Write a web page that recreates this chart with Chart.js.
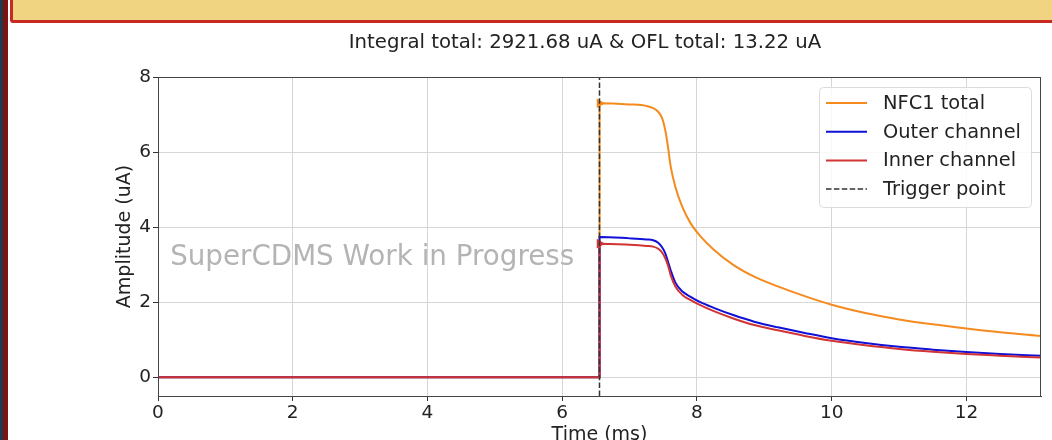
<!DOCTYPE html>
<html>
<head>
<meta charset="utf-8">
<script src="https://cdn.jsdelivr.net/npm/chart.js@4.4.1/dist/chart.umd.min.js"></script>
<style>
  html, body { margin: 0; padding: 0; background: #fff; overflow: hidden; }
  body { width: 1052px; height: 440px; position: relative; }
  #stripTeal { position: absolute; left: 0; top: 0; width: 3px; height: 440px; background: #1b3c4c; }
  #stripRed { position: absolute; left: 3px; top: 0; width: 5px; height: 440px; background: #7c1212; }
  #banner { position: absolute; left: 10px; top: -5px; width: 1060px; height: 22px; background: #f0d482; border: 3px solid #c62a22; border-radius: 3px; }
  #wrap { position: absolute; left: 0; top: 0; width: 1052px; height: 460px; }
</style>
</head>
<body>
<div id="stripTeal"></div>
<div id="stripRed"></div>
<div id="banner"></div>
<div id="wrap"><canvas id="pulse" width="1052" height="460"></canvas></div>
<script>
// pulse (ms / uA)
const timeMs = [0, 6.5536, 6.5537, 7.0, 7.25, 7.35, 7.42, 7.48, 7.53, 7.57, 7.61, 7.68, 7.78, 7.9, 8.05, 8.25, 8.55, 8.85, 9.2, 9.6, 10.0, 10.5, 11.0, 11.5, 12.0, 12.5, 13.1072];
const nfc1Total = [0, 0, 7.30, 7.27, 7.23, 7.17, 7.08, 6.92, 6.58, 6.14, 5.62, 5.07, 4.55, 4.12, 3.76, 3.40, 2.98, 2.68, 2.42, 2.16, 1.93, 1.71, 1.54, 1.41, 1.30, 1.20, 1.10];
const outerChannel = [0, 0, 3.74, 3.70, 3.67, 3.65, 3.59, 3.47, 3.30, 3.08, 2.85, 2.52, 2.29, 2.15, 2.00, 1.85, 1.65, 1.48, 1.33, 1.18, 1.04, 0.91, 0.81, 0.735, 0.67, 0.62, 0.57];
const innerChannel = [0, 0, 3.56, 3.53, 3.50, 3.48, 3.43, 3.33, 3.17, 2.98, 2.72, 2.42, 2.20, 2.06, 1.92, 1.76, 1.56, 1.39, 1.25, 1.10, 0.97, 0.85, 0.755, 0.68, 0.62, 0.575, 0.525];
const triggerMs = [6.5536, 6.5536];
const triggerAmp = [-0.5, 8];

const xTicks = { min: 0, max: 13.1072, step: 2 };
const yTicks = { min: -0.5, max: 8, step: 2 };

const titleText = "Integral total: 2921.68 uA & OFL total: 13.22 uA";
const watermark = "SuperCDMS Work in Progress";

Chart.defaults.font.family = "'DejaVu Sans', sans-serif";
Chart.defaults.color = "#222";

function pts(xs, ys) {
  return xs.map((x, i) => ({ x: x, y: ys[i] }));
}

// marker on the first sample after the trigger
function startMarker(ctx) {
  return ctx.dataIndex === 2 ? 3.5 : 0;
}

var decor = {
  id: "decor",
  beforeDatasetsDraw: function (chart) {
    let c = chart.ctx;
    let sx = chart.scales.x, sy = chart.scales.y;
    c.save();
    c.font = "27.75px 'DejaVu Sans'";
    c.fillStyle = "#b4b4b4";
    c.textAlign = "left";
    c.textBaseline = "alphabetic";
    c.fillText(watermark, sx.getPixelForValue(0.18), sy.getPixelForValue(3.0));
    c.restore();
  },
  afterDraw: function (chart) {
    let c = chart.ctx;
    let a = chart.chartArea;
    c.save();
    // frame
    c.strokeStyle = "#444";
    c.lineWidth = 1;
    c.strokeRect(Math.round(a.left) + 0.5, Math.round(a.top) + 0.5, Math.round(a.right - a.left) - 1, Math.round(a.bottom - a.top));

    // title
    c.font = "19.7px 'DejaVu Sans'";
    c.fillStyle = "#222";
    c.textAlign = "center";
    c.textBaseline = "alphabetic";
    c.fillText(titleText, 585, 48);

    // legend box
    let bx = 819, by = 87, bw = 212, bh = 120;
    c.beginPath();
    c.roundRect(bx + 0.5, by + 0.5, bw, bh, 4);
    c.fillStyle = "rgba(255,255,255,0.85)";
    c.fill();
    c.strokeStyle = "#dcdcdc";
    c.stroke();

    c.font = "19.4px 'DejaVu Sans'";
    c.textAlign = "left";
    c.textBaseline = "middle";
    chart.data.datasets.forEach(function (ds, i) {
      let ly = 103 + i * 28.7;
      c.beginPath();
      c.strokeStyle = ds.borderColor;
      c.lineWidth = ds.borderWidth;
      c.setLineDash(ds.borderDash || []);
      c.moveTo(826, ly);
      c.lineTo(867, ly);
      c.stroke();
      c.setLineDash([]);
      c.fillStyle = "#222";
      c.fillText(ds.label, 883, ly + 1);
    });
    c.restore();
  }
};

var chart = new Chart(document.getElementById("pulse"), {
  type: "line",
  data: {
    datasets: [{
      label: "NFC1 total",
      data: pts(timeMs, nfc1Total),
      borderColor: "#f58b1f",
      backgroundColor: "#f58b1f",
      borderWidth: 2,
      cubicInterpolationMode: "monotone",
      pointRadius: startMarker,
      pointStyle: "triangle",
      rotation: 90,
      order: 3
    }, {
      label: "Outer channel",
      data: pts(timeMs, outerChannel),
      borderColor: "#1010d8",
      backgroundColor: "#1010d8",
      borderWidth: 2,
      cubicInterpolationMode: "monotone",
      pointRadius: 0,
      order: 2
    }, {
      label: "Inner channel",
      data: pts(timeMs, innerChannel),
      borderColor: "#d23434",
      backgroundColor: "#d23434",
      borderWidth: 2,
      cubicInterpolationMode: "monotone",
      pointRadius: startMarker,
      pointStyle: "triangle",
      rotation: 90,
      order: 1
    }, {
      label: "Trigger point",
      data: pts(triggerMs, triggerAmp),
      borderColor: "#333",
      borderWidth: 1.5,
      borderDash: [5.5, 2.4],
      pointRadius: 0,
      order: 0
    }]
  },
  options: {
    responsive: false,
    animation: false,
    layout: { padding: { left: 114, top: 77, right: 11, bottom: 14 } },
    plugins: { legend: { display: false }, tooltip: { enabled: false } },
    scales: {
      x: {
        type: "linear",
        min: xTicks.min,
        max: xTicks.max,
        ticks: { stepSize: xTicks.step, includeBounds: false, font: { size: 18.5 }, padding: 1, maxRotation: 0 },
        grid: { color: "#d6d6d6", tickColor: "#333", tickLength: 5 },
        border: { color: "#444" },
        title: { display: true, text: "Time (ms)", font: { size: 19 }, padding: 0 },
        afterFit: function (s) { s.height = 50; }
      },
      y: {
        type: "linear",
        min: yTicks.min,
        max: yTicks.max,
        ticks: { stepSize: yTicks.step, includeBounds: false, font: { size: 18.5 }, padding: 2 },
        grid: { color: "#d6d6d6", tickColor: "#333", tickLength: 5 },
        border: { color: "#444" },
        title: { display: true, text: "Amplitude (uA)", font: { size: 19 }, padding: 0 },
        afterFit: function (s) { s.width = 44; }
      }
    }
  },
  plugins: [decor]
});
</script>
</body>
</html>
